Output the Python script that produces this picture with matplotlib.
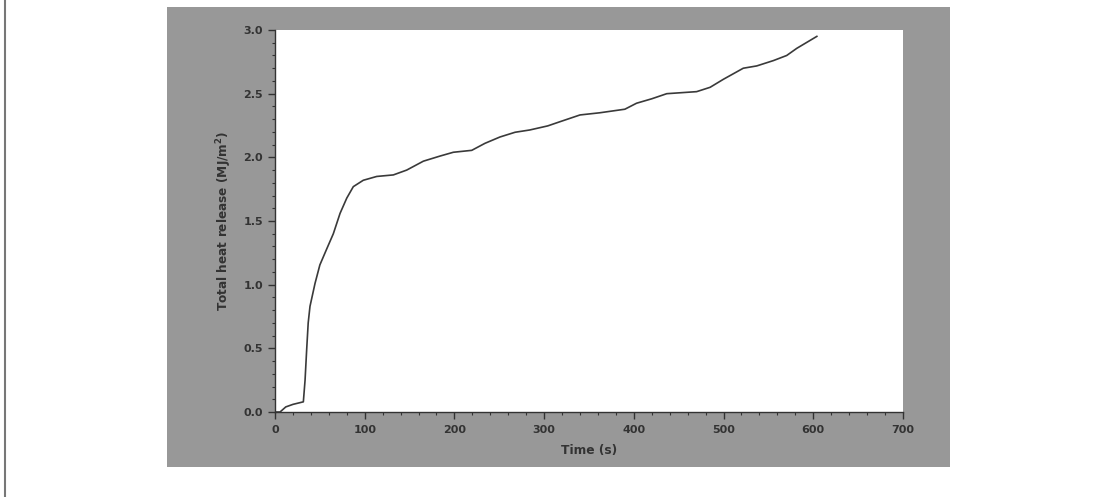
import numpy as np
import matplotlib
matplotlib.use("Agg")
import matplotlib.pyplot as plt
from matplotlib.patches import Rectangle
from matplotlib.ticker import MultipleLocator

# total heat release curve
time_s = [0, 5.6, 12, 20, 31.6, 33.5, 35.3, 37, 39, 44.6, 50, 57.6, 65, 72.5, 80, 87.3,
          98.4, 113.4, 131.9, 146.8, 165.4, 183.9, 198.8, 219.3, 234, 250.8, 267.6,
          284, 304, 317.7, 340, 362, 390, 403, 420, 436.7, 470, 485, 499.8, 522,
          537, 555.6, 570.4, 581.6, 604]
thr = [0, 0.0, 0.04, 0.06, 0.08, 0.25, 0.49, 0.70, 0.83, 1.01, 1.155, 1.28, 1.40, 1.56,
       1.68, 1.77, 1.82, 1.85, 1.862, 1.90, 1.97, 2.01, 2.04, 2.055, 2.11, 2.16, 2.197,
       2.215, 2.247, 2.28, 2.333, 2.35, 2.378, 2.425, 2.46, 2.50, 2.516, 2.55, 2.613,
       2.70, 2.718, 2.76, 2.80, 2.856, 2.95]

xticks = [0, 100, 200, 300, 400, 500, 600, 700]
yticks = [0.0, 0.5, 1.0, 1.5, 2.0, 2.5, 3.0]

plt.rcParams['font.family'] = ['DejaVu Sans']
plt.rcParams['mathtext.fontset'] = 'dejavusans'

fig = plt.figure(figsize=(11.04, 4.97), dpi=100)
fig.patch.set_facecolor('white')

# grey frame behind the plot
fig.add_artist(Rectangle((0.1513, 0.0604), 0.7092, 0.9255, transform=fig.transFigure,
                         facecolor='#989898', edgecolor='none', zorder=-10))
# thin page border on the left
fig.add_artist(plt.Line2D([0.0045, 0.0045], [0, 1], transform=fig.transFigure,
                          color='#777777', lw=1.5, zorder=-10))

ax = fig.add_axes([0.2491, 0.171, 0.5688, 0.7686])
ax.set_zorder(5)
ax.set_facecolor('white')
ax.plot(time_s, thr, color='#3a3a3a', lw=1.2)

ax.set_xlim(0, 700)
ax.set_ylim(0, 3.0)
ax.set_xticks(xticks)
ax.set_yticks(yticks)
ax.set_yticklabels([f"{v:.1f}" for v in yticks])
ax.xaxis.set_minor_locator(MultipleLocator(20))
ax.yaxis.set_minor_locator(MultipleLocator(0.1))

for side in ['top', 'right']:
    ax.spines[side].set_visible(False)
for side in ['left', 'bottom']:
    ax.spines[side].set_color('#333333')
    ax.spines[side].set_linewidth(1.0)

ax.tick_params(which='major', direction='out', length=5, width=1, color='#333333',
               labelsize=8, labelcolor='#333333')
ax.tick_params(axis='y', which='major', pad=3.5)
ax.tick_params(axis='x', which='major', pad=4.5)
ax.tick_params(which='minor', direction='out', length=2.5, width=0.8, color='#333333')
for lab in ax.get_xticklabels() + ax.get_yticklabels():
    lab.set_fontweight('bold')

ax.set_xlabel("Time (s)", fontsize=8.8, fontweight='bold', color='#333333', labelpad=6)
ax.set_ylabel("Total heat release (MJ/m$^\\mathbf{2}$)", fontsize=8.7, fontweight='bold',
              color='#333333', labelpad=7)

fig.savefig("out.png", dpi=100, facecolor=fig.get_facecolor())
